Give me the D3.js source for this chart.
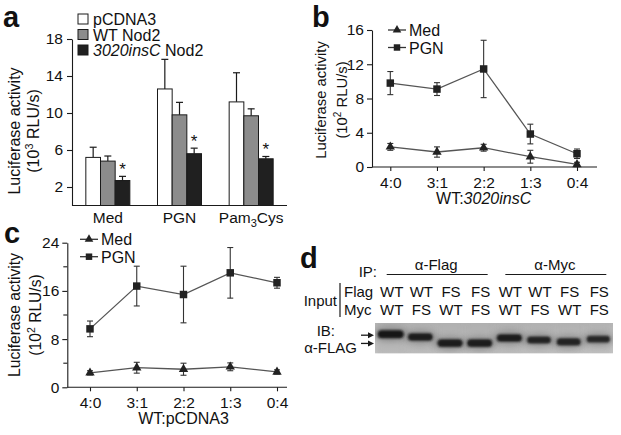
<!DOCTYPE html>
<html><head><meta charset="utf-8">
<script src="https://cdn.jsdelivr.net/npm/d3@7"></script>
<style>
body{margin:0;background:#fff}
svg{display:block}
text{font-family:Arial,"Liberation Sans",sans-serif;fill:#111}
</style>
</head><body>
<svg id="fig" width="621" height="435"></svg>
<script>
// ---------- DATA ----------
// Panel a
const groupsA = ["Med", "PGN", "Pam3Cys"];
const seriesA = ["pCDNA3", "WT Nod2", "3020insC Nod2"];
const pcdnaA = [5.2, 12.6, 11.2];
const pcdnaErrA = [1.1, 3.2, 3.15];
const wtA = [4.8, 9.8, 9.7];
const wtErrA = [0.55, 1.35, 0.75];
const insA = [2.7, 5.6, 5.05];
const insErrA = [0.45, 0.6, 0.25];
const sigA = [true, true, true];
const ticksA = [2, 6, 10, 14, 18];

// Panel b
const ratiosB = ["4:0", "3:1", "2:2", "1:3", "0:4"];
const medB = [2.35, 1.75, 2.25, 1.2, 0.3];
const medErrB = [0.4, 0.6, 0.4, 0.75, 0.25];
const pgnB = [9.8, 9.1, 11.45, 3.85, 1.55];
const pgnErrB = [1.35, 0.75, 3.35, 1.15, 0.55];
const ticksB = [0, 4, 8, 12, 16];

// Panel c
const ratiosC = ["4:0", "3:1", "2:2", "1:3", "0:4"];
const medC = [2.4, 3.25, 3.0, 3.4, 2.55];
const medErrC = [0.35, 0.9, 1.0, 0.65, 0.35];
const pgnC = [9.7, 16.8, 15.4, 19.0, 17.35];
const pgnErrC = [1.3, 3.3, 4.7, 4.2, 0.9];
const ticksC = [0, 8, 16, 24];
const minorTicksC = [4, 12, 20];

// Panel d
const ipGroups = ["α-Flag", "α-Myc"];
const laneFlag = ["WT", "WT", "FS", "FS", "WT", "WT", "FS", "FS"];
const laneMyc = ["WT", "FS", "WT", "FS", "WT", "FS", "WT", "FS"];
const bandMobility = [0.37, 0.46, 0.66, 0.66, 0.49, 0.56, 0.62, 0.53];
const bandIntensity = [1.0, 0.88, 0.9, 0.9, 0.92, 0.78, 0.8, 0.72];

// ---------- DRAW ----------
const svg = d3.select("#fig");
svg.append("rect").attr("width", 621).attr("height", 435).attr("fill", "#fff");
const FONT = "Arial, 'Liberation Sans', sans-serif";
const INK = "#1a1a1a";
const TICKFS = 15.5, LEGFS = 16;

function styleAxis(g, fs) {
  g.attr("font-family", FONT).attr("font-size", fs);
  g.selectAll("text").attr("fill", "#111");
  g.selectAll("line,path").attr("stroke", INK).attr("stroke-width", 1.1);
}

function panelLabel(t, x, y) {
  svg.append("text").attr("x", x).attr("y", y).attr("font-size", 29)
    .attr("font-weight", "bold").text(t);
}

function yTitle(cx, cy, exp, gap, fs) {
  const g = svg.append("g").attr("font-size", fs);
  g.append("text").attr("transform", `translate(${cx},${cy}) rotate(-90)`)
    .attr("text-anchor", "middle").text("Luciferase activity");
  const t2 = g.append("text").attr("transform", `translate(${cx + gap},${cy}) rotate(-90)`)
    .attr("text-anchor", "middle");
  t2.append("tspan").text("(10");
  t2.append("tspan").attr("dy", -6).attr("font-size", fs * 0.68).text(exp);
  t2.append("tspan").attr("dy", 6).text(" RLU/s)");
}

// ===== Panel a =====
(function () {
  const x0 = 72, x1 = 287;
  const y = d3.scaleLinear().domain([0, 18]).range([205.5, 39]);
  const xg = d3.scaleBand().domain(groupsA).range([x0, x1]).paddingInner(0.386).paddingOuter(0.193);
  const xs = d3.scaleBand().domain(seriesA).range([0, xg.bandwidth()]);
  const fills = ["#ffffff", "#8c8c8c", "#202020"];
  const vals = [pcdnaA, wtA, insA];
  const errs = [pcdnaErrA, wtErrA, insErrA];

  panelLabel("a", 3, 27);

  const ya = svg.append("g").attr("transform", `translate(${x0},0)`)
    .call(d3.axisLeft(y).tickValues(ticksA).tickSize(5).tickSizeOuter(0).tickPadding(4));
  styleAxis(ya, TICKFS);
  svg.append("line").attr("x1", x0).attr("x2", x1).attr("y1", y(0)).attr("y2", y(0))
    .attr("stroke", INK).attr("stroke-width", 1.1);

  seriesA.forEach((s, si) => {
    groupsA.forEach((gname, gi) => {
      const bx = xg(gname) + xs(s);
      const v = vals[si][gi], e = errs[si][gi];
      const cx = bx + xs.bandwidth() / 2;
      svg.append("line").attr("x1", cx).attr("x2", cx).attr("y1", y(v)).attr("y2", y(v + e))
        .attr("stroke", INK).attr("stroke-width", 1.2);
      svg.append("line").attr("x1", cx - 3.5).attr("x2", cx + 3.5).attr("y1", y(v + e)).attr("y2", y(v + e))
        .attr("stroke", INK).attr("stroke-width", 1.2);
      svg.append("rect").attr("x", bx).attr("y", y(v)).attr("width", xs.bandwidth())
        .attr("height", y(0) - y(v)).attr("fill", fills[si]).attr("stroke", INK).attr("stroke-width", 1);
      if (si === 2 && sigA[gi]) {
        svg.append("text").attr("x", cx).attr("y", y(v + e) - 1).attr("text-anchor", "middle")
          .attr("font-size", 17).text("*");
      }
    });
  });

  groupsA.forEach(gname => {
    const t = svg.append("text").attr("x", xg(gname) + xg.bandwidth() / 2).attr("y", 223)
      .attr("text-anchor", "middle").attr("font-size", TICKFS);
    if (gname === "Pam3Cys") {
      t.append("tspan").text("Pam");
      t.append("tspan").attr("dy", 4).attr("font-size", 11).text("3");
      t.append("tspan").attr("dy", -4).text("Cys");
    } else t.text(gname);
  });

  yTitle(19.5, 131, "3", 19.5, 16);

  // legend
  const ly = [19, 34.5, 50];
  seriesA.forEach((s, i) => {
    svg.append("rect").attr("x", 78).attr("y", ly[i] - 5).attr("width", 10).attr("height", 10)
      .attr("fill", fills[i]).attr("stroke", INK).attr("stroke-width", 1);
    const t = svg.append("text").attr("x", 93).attr("y", ly[i] + 6).attr("font-size", LEGFS);
    if (i === 2) {
      t.append("tspan").attr("font-style", "italic").text("3020insC");
      t.append("tspan").text(" Nod2");
    } else t.text(s);
  });
})();

// ===== line panels =====
function linePanel(opt) {
  const x = d3.scalePoint().domain(opt.cats).range([opt.px0, opt.px1]);
  const y = d3.scaleLinear().domain([0, opt.ymax]).range([opt.y0, opt.ytop]);

  const ya = svg.append("g").attr("transform", `translate(${opt.ax0},0)`)
    .call(d3.axisLeft(y).tickValues(opt.ticks).tickSize(5).tickSizeOuter(0).tickPadding(3));
  styleAxis(ya, TICKFS);
  if (opt.minor) {
    svg.append("g").selectAll("line").data(opt.minor).join("line")
      .attr("x1", opt.ax0 - 4).attr("x2", opt.ax0).attr("y1", d => y(d)).attr("y2", d => y(d))
      .attr("stroke", INK).attr("stroke-width", 1.1);
  }
  const xa = svg.append("g").attr("transform", `translate(0,${opt.y0})`)
    .call(d3.axisBottom(x).tickSize(4).tickSizeOuter(0).tickPadding(6));
  xa.select(".domain").remove();
  styleAxis(xa, TICKFS);
  svg.append("line").attr("x1", opt.ax0).attr("x2", opt.ax1).attr("y1", opt.y0).attr("y2", opt.y0)
    .attr("stroke", INK).attr("stroke-width", 1.1);

  const series = [
    { v: opt.pgn, e: opt.pgnErr, sym: d3.symbolSquare, size: 56 },
    { v: opt.med, e: opt.medErr, sym: d3.symbolTriangle, size: 38 }
  ];
  const line = d3.line().x((d, i) => x(opt.cats[i])).y(d => y(d));
  series.forEach(s => {
    svg.append("path").attr("d", line(s.v)).attr("fill", "none").attr("stroke", "#555").attr("stroke-width", 1.3);
    s.v.forEach((v, i) => {
      const cx = x(opt.cats[i]), e = s.e[i];
      const g = svg.append("g").attr("stroke", "#333").attr("stroke-width", 1.1);
      g.append("line").attr("x1", cx).attr("x2", cx).attr("y1", y(v - e)).attr("y2", y(v + e));
      g.append("line").attr("x1", cx - 3).attr("x2", cx + 3).attr("y1", y(v - e)).attr("y2", y(v - e));
      g.append("line").attr("x1", cx - 3).attr("x2", cx + 3).attr("y1", y(v + e)).attr("y2", y(v + e));
    });
    s.v.forEach((v, i) => {
      svg.append("path").attr("d", d3.symbol(s.sym, s.size)())
        .attr("transform", `translate(${x(opt.cats[i])},${y(v)})`).attr("fill", "#222");
    });
  });

  // legend
  const leg = [
    { name: "Med", sym: d3.symbolTriangle, size: 32, y: opt.legY[0] },
    { name: "PGN", sym: d3.symbolSquare, size: 42, y: opt.legY[1] }
  ];
  leg.forEach(l => {
    svg.append("line").attr("x1", opt.legX).attr("x2", opt.legX + 18).attr("y1", l.y).attr("y2", l.y)
      .attr("stroke", "#333").attr("stroke-width", 1.3);
    svg.append("path").attr("d", d3.symbol(l.sym, l.size)())
      .attr("transform", `translate(${opt.legX + 9},${l.y})`).attr("fill", "#222");
    svg.append("text").attr("x", opt.legX + 21).attr("y", l.y + 6).attr("font-size", LEGFS).text(l.name);
  });

  yTitle(opt.titleX, opt.titleY, "2", opt.gap, opt.titleFs);
  const t = svg.append("text").attr("x", (opt.px0 + opt.px1) / 2).attr("y", opt.xtY)
    .attr("text-anchor", "middle").attr("font-size", 16);
  opt.xtitle(t);
}

// Panel b
panelLabel("b", 312, 27);
linePanel({
  cats: ratiosB, med: medB, medErr: medErrB, pgn: pgnB, pgnErr: pgnErrB,
  px0: 390.3, px1: 577, ax0: 372, ax1: 597, y0: 167, ytop: 30, ymax: 16, ticks: ticksB,
  legX: 388, legY: [30, 47.5], titleX: 326, titleY: 100, gap: 20.5, titleFs: 14.8, xtY: 204,
  xtitle: t => { t.append("tspan").text("WT:"); t.append("tspan").attr("font-style", "italic").text("3020insC"); }
});

// Panel c
panelLabel("c", 4, 243);
linePanel({
  cats: ratiosC, med: medC, medErr: medErrC, pgn: pgnC, pgnErr: pgnErrC,
  px0: 90, px1: 277, ax0: 67.3, ax1: 287, y0: 387.3, ytop: 242.7, ymax: 24, ticks: ticksC, minor: minorTicksC,
  legX: 80, legY: [239.3, 256.7], titleX: 19.5, titleY: 315, gap: 21, titleFs: 15.6, xtY: 424,
  xtitle: t => t.text("WT:pCDNA3")
});

// ===== Panel d =====
(function () {
  panelLabel("d", 300, 268);
  const lanes = d3.range(8);
  const x = d3.scalePoint().domain(lanes).range([391.7, 599.3]);
  const g = svg.append("g").attr("font-size", 15);

  g.append("text").attr("x", 377).attr("y", 277).attr("text-anchor", "end").text("IP:");
  ipGroups.forEach((name, i) => {
    const a = x(i * 4), b = x(i * 4 + 3);
    g.append("text").attr("x", (a + b) / 2).attr("y", 270).attr("text-anchor", "middle").text(name);
    g.append("line").attr("x1", a - 5).attr("x2", b + 7).attr("y1", 274.5).attr("y2", 274.5)
      .attr("stroke", INK).attr("stroke-width", 1.2);
  });
  g.append("text").attr("x", 337).attr("y", 306).attr("text-anchor", "end").text("Input");
  g.append("line").attr("x1", 340).attr("x2", 340).attr("y1", 283).attr("y2", 317)
    .attr("stroke", INK).attr("stroke-width", 1.2);
  g.append("text").attr("x", 344).attr("y", 296.5).text("Flag");
  g.append("text").attr("x", 344).attr("y", 315).text("Myc");
  lanes.forEach(i => {
    g.append("text").attr("x", x(i)).attr("y", 296.5).attr("text-anchor", "middle").text(laneFlag[i]);
    g.append("text").attr("x", x(i)).attr("y", 315).attr("text-anchor", "middle").text(laneMyc[i]);
  });
  g.append("text").attr("x", 335).attr("y", 336).attr("text-anchor", "end").text("IB:");
  g.append("text").attr("x", 357).attr("y", 353).attr("text-anchor", "end").text("α-FLAG");

  // blot
  const bx0 = 375, bx1 = 613, by0 = 323, by1 = 353.5;
  const by = d3.scaleLinear().domain([0, 1]).range([by0, by1]);
  const defs = svg.append("defs");
  defs.append("filter").attr("id", "blur1").attr("x", "-30%").attr("y", "-80%").attr("width", "160%").attr("height", "260%")
    .append("feGaussianBlur").attr("stdDeviation", 1.1);
  defs.append("filter").attr("id", "blur3").attr("x", "-50%").attr("y", "-100%").attr("width", "200%").attr("height", "300%")
    .append("feGaussianBlur").attr("stdDeviation", 3);
  const clip = defs.append("clipPath").attr("id", "blotClip");
  clip.append("rect").attr("x", bx0).attr("y", by0).attr("width", bx1 - bx0).attr("height", by1 - by0);
  const grad = defs.append("linearGradient").attr("id", "blotBg").attr("x1", 0).attr("x2", 0).attr("y1", 0).attr("y2", 1);
  grad.append("stop").attr("offset", "0%").attr("stop-color", "#bababa");
  grad.append("stop").attr("offset", "100%").attr("stop-color", "#c8c8c8");

  const blot = svg.append("g").attr("clip-path", "url(#blotClip)");
  blot.append("rect").attr("x", bx0).attr("y", by0).attr("width", bx1 - bx0).attr("height", by1 - by0)
    .attr("fill", "url(#blotBg)");
  lanes.forEach(i => {
    const w = 24 + 6 * bandIntensity[i];
    blot.append("rect").attr("x", x(i) - w / 2 - 1).attr("y", by0 - 4).attr("width", w).attr("height", by1 - by0 + 8)
      .attr("fill", "#8f8f8f").attr("opacity", 0.25 * bandIntensity[i]).attr("filter", "url(#blur3)");
  });
  lanes.forEach(i => {
    const w = 20 + 10 * bandIntensity[i], h = 6 + 6 * bandIntensity[i];
    blot.append("ellipse").attr("cx", x(i) - 1).attr("cy", by(bandMobility[i])).attr("rx", w / 2 + 2).attr("ry", h / 2 + 1)
      .attr("fill", "#555").attr("opacity", 0.45).attr("filter", "url(#blur3)");
  });
  lanes.forEach(i => {
    const w = 16 + 10 * bandIntensity[i], h = 3.5 + 4.5 * bandIntensity[i];
    blot.append("rect").attr("x", x(i) - 1 - w / 2).attr("y", by(bandMobility[i]) - h / 2)
      .attr("width", w).attr("height", h).attr("rx", h / 2)
      .attr("fill", d3.interpolateRgb("#5a5a5a", "#151515")(bandIntensity[i])).attr("filter", "url(#blur1)");
  });

  const arrows = [0.40, 0.67];
  arrows.forEach(a => {
    const yy = by(a);
    svg.append("line").attr("x1", 361).attr("x2", 370).attr("y1", yy).attr("y2", yy)
      .attr("stroke", INK).attr("stroke-width", 1.3);
    svg.append("path").attr("d", `M${374},${yy} L${368},${yy - 3} L${368},${yy + 3} Z`).attr("fill", INK);
  });
})();
</script>
</body></html>
